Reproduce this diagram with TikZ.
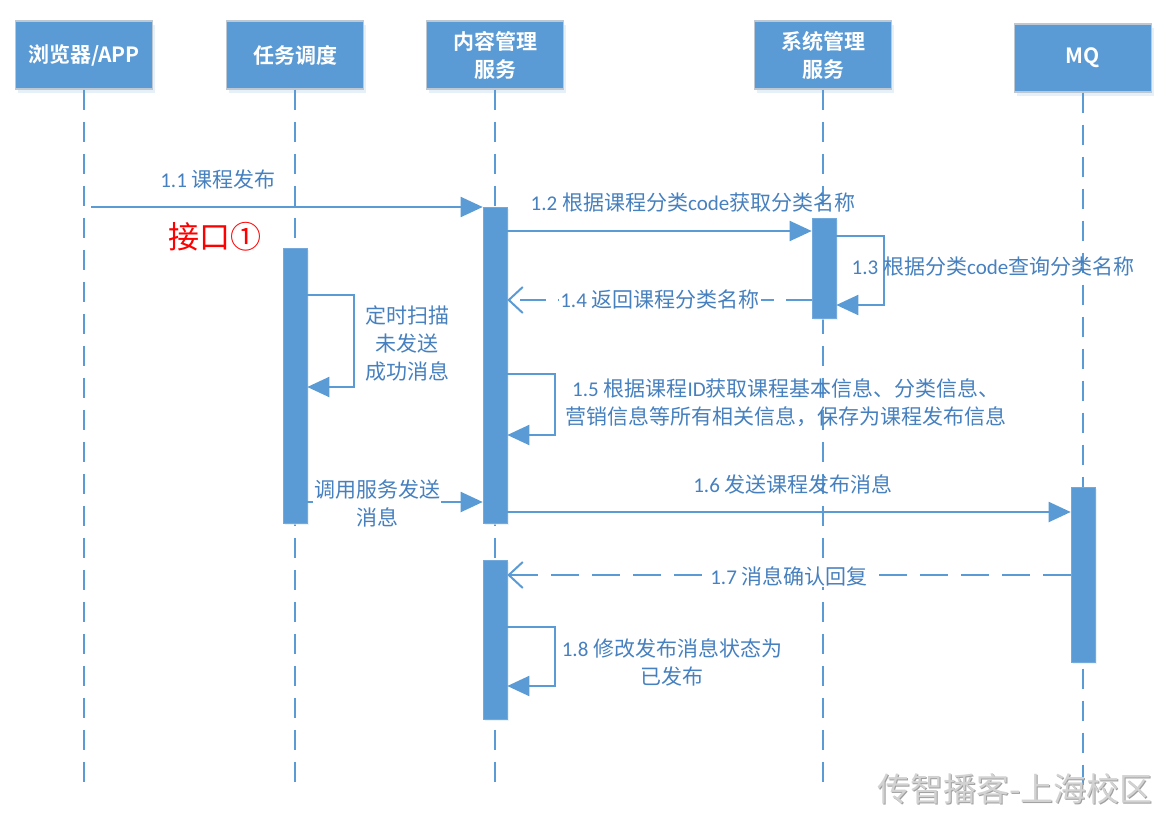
\documentclass[tikz,border=0pt]{standalone}
\usepackage{fontspec}
\setmainfont{Carlito}
\newfontfamily\lat{Carlito}
\newfontfamily\cjk{Noto Sans CJK SC}[BoldFont={Noto Sans CJK SC Bold}]
\usetikzlibrary{arrows.meta,shadows}
\definecolor{boxblue}{RGB}{91,155,213}
\definecolor{boxedge}{RGB}{190,200,210}
\definecolor{lineblue}{RGB}{91,155,213}
\definecolor{txtblue}{RGB}{70,128,190}
\begin{document}
\begin{tikzpicture}[x=1pt,y=-1pt,
  hdr/.style={draw=boxedge, line width=1.2pt, fill=boxblue, minimum width=137pt, minimum height=68pt,
    inner sep=0pt, text=white, font=\cjk\bfseries\fontsize{21}{28}\selectfont, align=center,
    drop shadow={shadow xshift=2pt, shadow yshift=-4pt, fill=boxblue!25, opacity=0.6}},
  bar/.style={fill=boxblue, draw=boxblue!85!white, line width=0.6pt, minimum width=24pt, inner sep=0pt,
    drop shadow={shadow xshift=1.5pt, shadow yshift=-2pt, fill=boxblue!20, opacity=0.6}},
  life/.style={draw=lineblue, line width=2.4pt, dash pattern=on 20pt off 12pt},
  msg/.style={draw=lineblue, line width=2pt, -{Triangle[length=22pt,width=20pt]}},
  ret/.style={draw=lineblue, line width=2pt, dash pattern=on 26pt off 12pt, -{Straight Barb[length=14pt,width=26pt,line width=2pt]}},
  lbl/.style={text=txtblue, font=\cjk\fontsize{21}{28}\selectfont, align=center, inner sep=1pt},
]
\useasboundingbox (0,0) rectangle (1160,814);

% headers
\node[hdr] (h1) at (84,55) {浏览器/APP};
\node[hdr] (h2) at (295,55) {任务调度};
\node[hdr] (h3) at (495,55) {内容管理\\服务};
\node[hdr] (h4) at (823,55) {系统管理\\服务};
\node[hdr] (h5) at (1083,58) {MQ};

% lifelines
\draw[life] (h1.south) -- (h1.south |- 0,785);
\draw[life] (h2.south) -- (h2.south |- 0,785);
\draw[life] (h3.south) -- (h3.south |- 0,785);
\draw[life] (h4.south) -- (h4.south |- 0,785);
\draw[life] (h5.south) -- (h5.south |- 0,785);

% activation bars
\node[bar, minimum height=275pt] (b2) at (295,385.5) {};
\node[bar, minimum height=316pt] (b3) at (495,365) {};
\node[bar, minimum height=159pt] (b3b) at (495,639.5) {};
\node[bar, minimum height=100pt] (b4) at (824,268) {};
\node[bar, minimum height=175pt] (b5) at (1083,574.5) {};

% 1.1
\coordinate (s11) at (91,207);
\draw[msg] (s11) -- (s11 -| b3.west);
\node[lbl] (l11) at (218,180) {{\lat 1.1 }课程发布};
\node[text=red, font=\cjk\fontsize{31}{31}\selectfont, inner sep=0pt] (api) at (215,237) {接口①};

% 1.2
\draw[msg] (b3.east |- 0,231) -- (b4.west |- 0,231);
\node[lbl] (l12) at (693,203) {{\lat 1.2 }根据课程分类{\lat code}获取分类名称};

% 1.3
\draw[msg] (b4.east |- 0,236) -- (884,236) -- (884,305) -- (b4.east |- 0,305);
\node[lbl] (l13) at (993,267) {{\lat 1.3 }根据分类{\lat code}查询分类名称};

% 1.4
\draw[ret] (b4.west |- 0,300) -- (b3.east |- 0,300);
\node[lbl, fill=white] (l14) at (660,300) {{\lat 1.4 }返回课程分类名称};

% timer loop
\draw[msg] (b2.east |- 0,295) -- (354,295) -- (354,387) -- (b2.east |- 0,387);
\node[lbl] (lt) at (407,344) {定时扫描\\未发送\\成功消息};

% 1.5
\draw[msg] (b3.east |- 0,374) -- (555,374) -- (555,435) -- (b3.east |- 0,435);
\node[lbl] (l15) at (786,403) {{\lat 1.5 }根据课程{\lat ID}获取课程基本信息、分类信息、\\营销信息等所有相关信息，保存为课程发布信息};

% call service
\draw[msg] (b2.east |- 0,502) -- (b3.west |- 0,502);
\node[lbl, fill=white] (lc) at (377,503) {调用服务发送\\消息};

% 1.6
\draw[msg] (b3.east |- 0,512) -- (b5.west |- 0,512);
\node[lbl] (l16) at (793,484) {{\lat 1.6 }发送课程发布消息};

% 1.7
\draw[ret, dash pattern=on 28pt off 13pt] (b5.west |- 0,575) -- (b3b.east |- 0,575);
\node[lbl, fill=white] (l17) at (789,576) {{\lat 1.7 }消息确认回复};

% 1.8
\draw[msg] (b3b.east |- 0,627) -- (555,627) -- (555,686) -- (b3b.east |- 0,686);
\node[lbl] (l18) at (672,662) {{\lat 1.8 }修改发布消息状态为\\已发布};

% watermark
\node[text=gray!75, font=\cjk\fontsize{33}{33}\selectfont, inner sep=0pt] (wm0) at (1016.2,790.2) {传智播客-上海校区};
\node[text=gray!35, font=\cjk\fontsize{33}{33}\selectfont, inner sep=0pt] (wm) at (1015,789) {传智播客-上海校区};
\end{tikzpicture}
\end{document}
